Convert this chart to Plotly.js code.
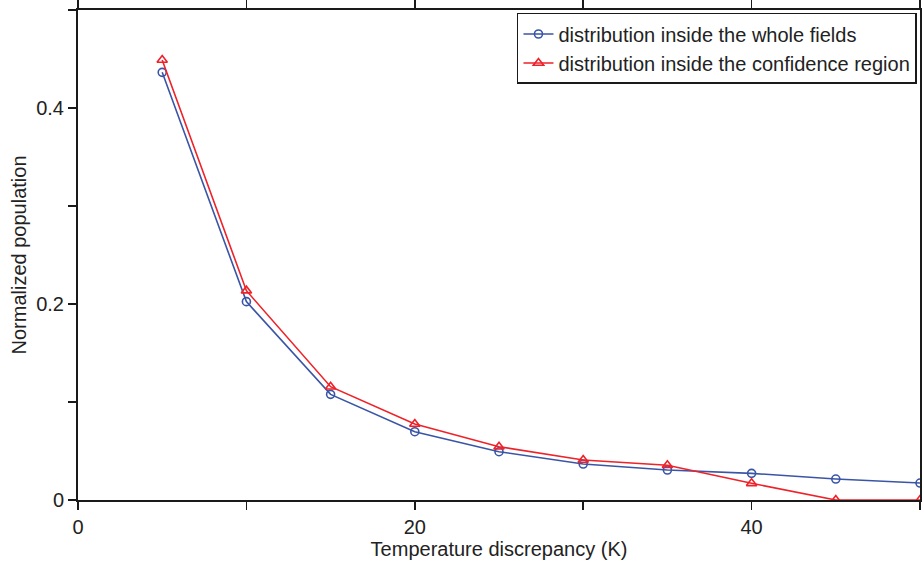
<!DOCTYPE html>
<html>
<head>
<meta charset="utf-8">
<script src="https://cdn.plot.ly/plotly-3.0.1.min.js"></script>
<style>html,body{margin:0;padding:0;background:#fff;}#chart{width:922px;height:561px;}</style>
</head>
<body>
<div id="chart"></div>
<script>
const xValues = [5, 10, 15, 20, 25, 30, 35, 40, 45, 50];
const wholeFields = [0.4364, 0.2024, 0.1078, 0.0697, 0.0493, 0.0367, 0.0306, 0.0272, 0.0214, 0.0173];
const confidenceRegion = [0.449, 0.2136, 0.1156, 0.0776, 0.0544, 0.0408, 0.0354, 0.017, 0.0, 0.0];
const seriesNames = ["distribution inside the whole fields", "distribution inside the confidence region"];
const xTickVals = [0, 10, 20, 30, 40, 50];
const xTickText = ["0", "", "20", "", "40", ""];
const yTickVals = [0, 0.1, 0.2, 0.3, 0.4, 0.5];
const yTickText = ["0", "", "0.2", "", "0.4", ""];
const xTitle = "Temperature discrepancy (K)";
const yTitle = "Normalized population";

const font = "Liberation Sans, Arial, Helvetica, sans-serif";
const traces = [
  {x: xValues, y: wholeFields, name: seriesNames[0], type: "scatter", mode: "lines+markers",
   line: {color: "#3a55a6", width: 1.6},
   marker: {symbol: "circle-open", size: 8, color: "#3a55a6", line: {width: 1.6, color: "#3a55a6"}}},
  {x: xValues, y: confidenceRegion, name: seriesNames[1], type: "scatter", mode: "lines+markers",
   line: {color: "#ee2228", width: 1.6},
   marker: {symbol: "triangle-up-open", size: 9, color: "#ee2228", line: {width: 1.6, color: "#ee2228"}}}
];
const axisCommon = {
  showline: true, linecolor: "#1a1a1a", linewidth: 2, mirror: "ticks",
  ticks: "outside", ticklen: 8, tickwidth: 1.5, tickcolor: "#1a1a1a",
  showgrid: false, zeroline: false,
  tickfont: {family: font, size: 20, color: "#222"}
};
const layout = {
  width: 922, height: 561,
  margin: {l: 78, r: 2, t: 10, b: 61},
  paper_bgcolor: "#fff", plot_bgcolor: "#fff",
  font: {family: font, color: "#222"},
  showlegend: true,
  legend: {x: 0.9964, y: 0.9939, xanchor: "right", yanchor: "top",
    bordercolor: "#1a1a1a", borderwidth: 1.5, bgcolor: "#fff",
    font: {family: font, size: 20, color: "#222"},
    itemwidth: 30, tracegroupgap: 0},
  xaxis: Object.assign({}, axisCommon, {range: [0, 50], tickvals: xTickVals, ticktext: xTickText,
    title: {text: xTitle, font: {family: font, size: 20, color: "#222"}, standoff: 0}}),
  yaxis: Object.assign({}, axisCommon, {range: [0, 0.5], tickvals: yTickVals, ticktext: yTickText,
    title: {text: yTitle, font: {family: font, size: 20, color: "#222"}, standoff: 4}})
};
Plotly.newPlot("chart", traces, layout, {displayModeBar: false, staticPlot: true});
</script>
</body>
</html>
